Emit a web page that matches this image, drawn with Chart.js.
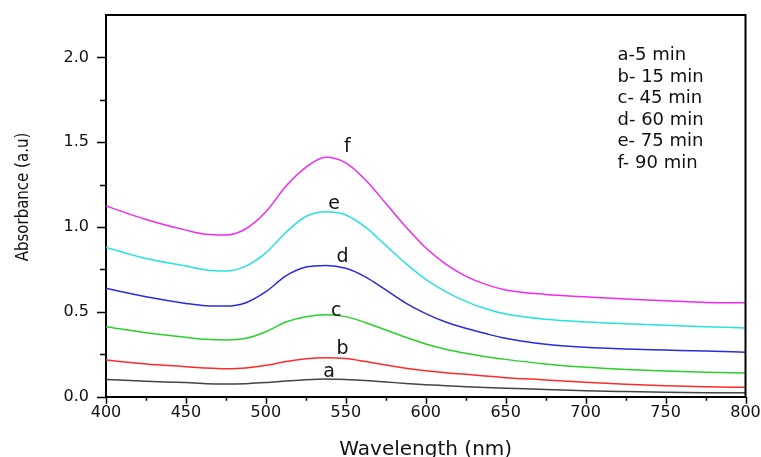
<!DOCTYPE html>
<html>
<head>
<meta charset="utf-8">
<script src="https://cdn.jsdelivr.net/npm/chart.js@4"></script>
<style>
  html, body { margin: 0; padding: 0; background: #fff; }
  #wrap { width: 761px; height: 457px; position: relative; }
</style>
</head>
<body>
<div id="wrap"><canvas id="chart"></canvas></div>
<script>
const wavelengths = [400, 425, 450, 462.5, 475, 487.5, 500, 512.5, 525, 537.5, 550, 562.5, 575, 587.5, 600, 612.5, 625, 637.5, 650, 675, 700, 725, 750, 775, 800];

const seriesA = [0.102, 0.091, 0.083, 0.077, 0.075, 0.077, 0.083, 0.092, 0.100, 0.104, 0.102, 0.095, 0.087, 0.078, 0.071, 0.065, 0.059, 0.054, 0.050, 0.043, 0.035, 0.030, 0.026, 0.024, 0.024];
const seriesB = [0.216, 0.193, 0.177, 0.169, 0.165, 0.169, 0.185, 0.207, 0.224, 0.230, 0.225, 0.207, 0.187, 0.168, 0.153, 0.141, 0.132, 0.122, 0.112, 0.099, 0.085, 0.073, 0.065, 0.059, 0.055];
const seriesC = [0.412, 0.377, 0.350, 0.338, 0.334, 0.344, 0.383, 0.440, 0.471, 0.483, 0.472, 0.436, 0.393, 0.350, 0.311, 0.280, 0.256, 0.236, 0.220, 0.193, 0.173, 0.161, 0.151, 0.144, 0.140];
const seriesD = [0.639, 0.589, 0.550, 0.536, 0.534, 0.554, 0.619, 0.712, 0.764, 0.774, 0.757, 0.705, 0.629, 0.552, 0.490, 0.440, 0.403, 0.372, 0.344, 0.309, 0.291, 0.281, 0.275, 0.269, 0.262];
const seriesE = [0.880, 0.815, 0.770, 0.747, 0.741, 0.770, 0.848, 0.968, 1.062, 1.090, 1.071, 0.998, 0.892, 0.786, 0.692, 0.619, 0.562, 0.518, 0.487, 0.456, 0.440, 0.430, 0.421, 0.413, 0.405];
const seriesF = [1.124, 1.045, 0.982, 0.957, 0.953, 0.990, 1.090, 1.240, 1.352, 1.411, 1.378, 1.276, 1.140, 1.002, 0.878, 0.782, 0.711, 0.662, 0.629, 0.603, 0.589, 0.576, 0.566, 0.556, 0.554];

const curveLetters = ['a', 'b', 'c', 'd', 'e', 'f'];
const letterX = [539.6, 548, 544, 548, 542.7, 551];
const letterY = [0.114, 0.252, 0.477, 0.796, 1.104, 1.444];

const legendLines = ['a-5 min', 'b- 15 min', 'c- 45 min', 'd- 60 min', 'e- 75 min', 'f- 90 min'];

const colors = ['#444444', '#ff2a2a', '#2ad02a', '#2a2ae0', '#2ae0e0', '#f02af0'];
const allSeries = [seriesA, seriesB, seriesC, seriesD, seriesE, seriesF];

const FONT = '"DejaVu Sans", "Liberation Sans", Arial, sans-serif';

const isMultiple = (v, step) => Math.abs(v / step - Math.round(v / step)) < 1e-6;

// extra drawing: frame, minor/major ticks, curve letters, legend text, axis titles
const decorPlugin = {
    id: 'decor',
    afterDraw(chart) {
        const { ctx, chartArea: area, scales: { x, y } } = chart;
        ctx.save();
        ctx.strokeStyle = '#000';

        ctx.lineWidth = 2;
        ctx.beginPath();
        ctx.moveTo(area.left, area.top);
        ctx.lineTo(area.right, area.top);
        ctx.lineTo(area.right, area.bottom + 1);
        ctx.stroke();

        ctx.lineWidth = 1.5;
        ctx.beginPath();
        x.ticks.forEach(t => {
            const px = Math.round(x.getPixelForValue(t.value)) + 0.5;
            const len = isMultiple(t.value, 50) ? 7 : 4;
            ctx.moveTo(px, area.bottom);
            ctx.lineTo(px, area.bottom + len);
        });
        y.ticks.forEach(t => {
            if (t.value >= y.max - 1e-6) return;
            const py = Math.round(y.getPixelForValue(t.value)) + 0.5;
            const len = isMultiple(t.value, 0.5) ? 9 : 6;
            ctx.moveTo(area.left, py);
            ctx.lineTo(area.left - len, py);
        });
        ctx.stroke();

        ctx.fillStyle = '#111';
        ctx.font = '19px ' + FONT;
        ctx.textAlign = 'center';
        ctx.textBaseline = 'alphabetic';
        curveLetters.forEach((ch, i) => {
            ctx.fillText(ch, x.getPixelForValue(letterX[i]), y.getPixelForValue(letterY[i]));
        });

        ctx.font = '18px ' + FONT;
        ctx.textAlign = 'left';
        legendLines.forEach((line, i) => {
            ctx.fillText(line, area.right - 128, area.top + 45 + i * 21.5);
        });

        ctx.font = '20px ' + FONT;
        ctx.textAlign = 'center';
        ctx.fillText('Wavelength (nm)', (area.left + area.right) / 2, 455);

        ctx.save();
        ctx.translate(23, 197);
        ctx.rotate(-Math.PI / 2);
        ctx.scale(1, 1.2);
        ctx.font = '15px ' + FONT;
        ctx.textBaseline = 'middle';
        ctx.fillText('Absorbance (a.u)', 0, 0);
        ctx.restore();

        ctx.restore();
    }
};

const ctx = document.getElementById('chart').getContext('2d');

new Chart(ctx, {
    type: 'line',
    data: {
        datasets: allSeries.map((s, i) => ({
            label: curveLetters[i],
            data: s.map((v, j) => ({ x: wavelengths[j], y: v })),
            borderColor: colors[i],
            borderWidth: 1.5,
            pointRadius: 0,
            fill: false,
            cubicInterpolationMode: 'monotone'
        }))
    },
    options: {
        responsive: true,
        maintainAspectRatio: false,
        animation: false,
        layout: { padding: { top: 15, right: 15.5, bottom: 0, left: 0 } },
        plugins: {
            legend: { display: false },
            tooltip: { enabled: false }
        },
        scales: {
            x: {
                type: 'linear',
                min: 400,
                max: 800,
                afterFit: scale => {
                    scale.height = 60.3;
                    scale.paddingLeft = 0;
                    scale.paddingRight = 0;
                },
                grid: { display: false, drawTicks: false },
                border: { display: true, color: '#000', width: 2 },
                ticks: {
                    stepSize: 25,
                    padding: 7,
                    color: '#111',
                    font: { family: FONT, size: 16 },
                    maxRotation: 0,
                    autoSkip: false,
                    callback: v => isMultiple(v, 50) ? String(v) : ''
                }
            },
            y: {
                min: 0,
                max: 2.25,
                afterFit: scale => {
                    scale.width = 106;
                    scale.paddingTop = 0;
                    scale.paddingBottom = 0;
                },
                grid: { display: false, drawTicks: false },
                border: { display: true, color: '#000', width: 2 },
                ticks: {
                    stepSize: 0.25,
                    padding: 17,
                    color: '#111',
                    font: { family: FONT, size: 16 },
                    autoSkip: false,
                    callback: v => (isMultiple(v, 0.5) && v < 2.2) ? v.toFixed(1) : ''
                }
            }
        }
    },
    plugins: [decorPlugin]
});
</script>
</body>
</html>
